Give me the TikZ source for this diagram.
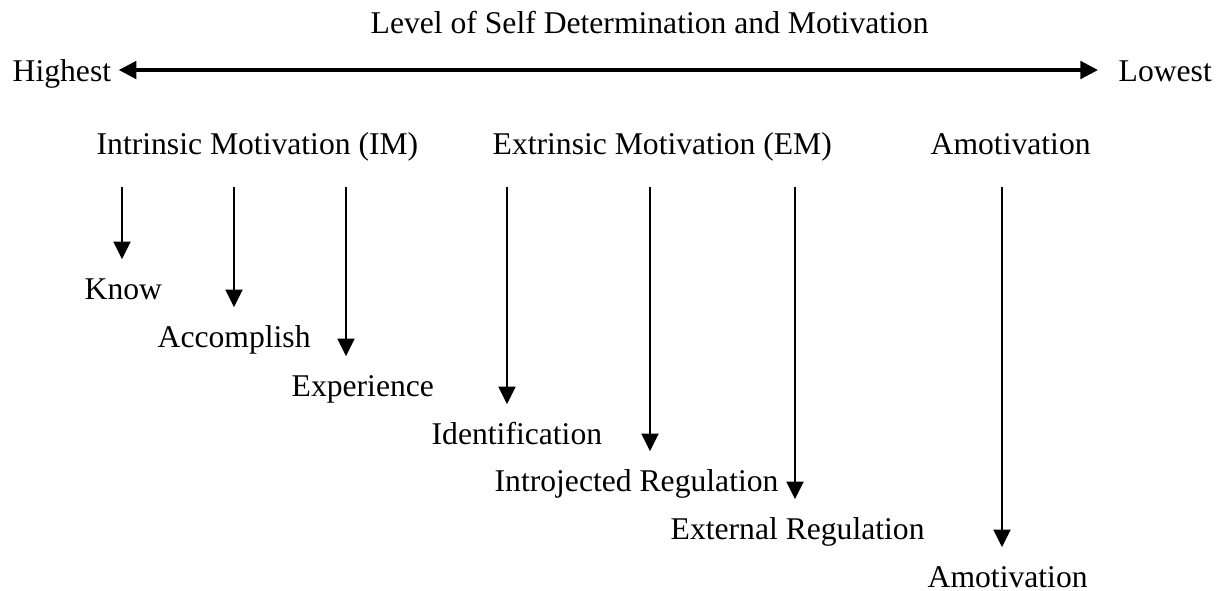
\documentclass[tikz,border=0pt]{standalone}
\usepackage{fontspec}
\setmainfont{Liberation Serif}
\usepackage{tikz}
\usetikzlibrary{arrows.meta, calc, positioning}

\begin{document}
\begin{tikzpicture}[
			x=0.1mm, y=-0.1mm,
			every node/.style={
					inner sep=0pt,
					anchor=base west,
					font=\fontsize{9}{11}\selectfont,
					text height=1.5ex, % Height above the baseline
					text depth=0.25ex  % Depth below the baseline
				},
			down/.style={
					-{Triangle[width=4.8pt, length=5pt]},
					line width=0.7pt,
					shorten >=1.5mm % Gap between tip and label
				},
			levelbar/.style={
					{Triangle[width=5pt, length=5pt]}-{Triangle[width=5pt, length=5pt]},
					line width=0.9pt
				}
		]
		\useasboundingbox (0,0) rectangle (1220,590);

		\node (title) at (370, 33) {Level of Self Determination and Motivation};
		\node (high) at (12, 81) {Highest};
		\node (low) at (1118, 81) {Lowest};

		\coordinate (bar) at (0, 70);
		\draw[levelbar] ([xshift=0.7mm]high.east |- bar) -- ([xshift=-2mm]low.west |- bar);

		% the three kinds of motivation
		\node (im) at (96, 154) {Intrinsic Motivation (IM)};
		\node (em) at (492, 154) {Extrinsic Motivation (EM)};
		\node (am) at (930, 154) {Amotivation};

		% one step down for each label
		\node (know) at (84, 299) {Know};
		\node (acc) at (157, 347) {Accomplish};
		\node (exp) at (291, 396) {Experience};
		\node (ident) at (431, 444) {Identification};
		\node (intro) at (494, 491) {Introjected Regulation};
		\node (ext) at (670, 539) {External Regulation};
		\node (amo) at (927, 587) {Amotivation};

		\coordinate (t1) at (122, 187);
		\coordinate (t2) at (234, 187);
		\coordinate (t3) at (346, 187);
		\coordinate (t4) at (507, 187);
		\coordinate (t5) at (650, 187);
		\coordinate (t6) at (795, 187);
		\coordinate (t7) at (1002, 187);

		\draw[down] (t1) -- (t1 |- know.north);
		\draw[down] (t2) -- (t2 |- acc.north);
		\draw[down] (t3) -- (t3 |- exp.north);
		\draw[down] (t4) -- (t4 |- ident.north);
		\draw[down] (t5) -- (t5 |- intro.north);
		\draw[down] (t6) -- (t6 |- ext.north);
		\draw[down] (t7) -- (t7 |- amo.north);
	\end{tikzpicture}
\end{document}
